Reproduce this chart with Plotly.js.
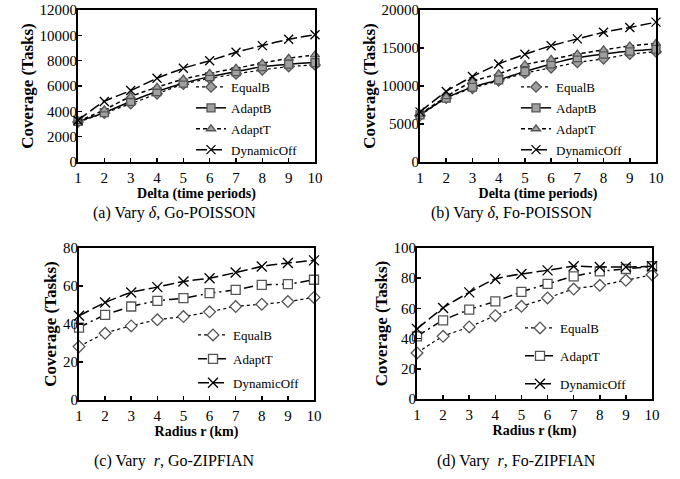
<!DOCTYPE html>
<html>
<head>
<meta charset="utf-8">
<script src="https://cdn.plot.ly/plotly-3.0.1.min.js"></script>
<style>html,body{margin:0;padding:0;background:#fff;}#chart{width:680px;height:479px;}</style>
</head>
<body>
<div id="chart"></div>
<script>
// ---- data ----
const xDelta = [1, 2, 3, 4, 5, 6, 7, 8, 9, 10];
const xRadius = [1, 2, 3, 4, 5, 6, 7, 8, 9, 10];

// (a) Go-POISSON, vary delta
const aEqualB     = [3150, 3860, 4600, 5380, 6140, 6600, 6950, 7270, 7530, 7660];
const aAdaptB     = [3200, 3900, 4780, 5560, 6220, 6740, 7140, 7530, 7720, 7850];
const aAdaptT     = [3200, 4120, 5170, 5900, 6540, 7000, 7400, 7800, 8190, 8450];
const aDynamicOff = [3300, 4780, 5640, 6610, 7400, 8000, 8660, 9190, 9690, 10050];

// (b) Fo-POISSON, vary delta
const bEqualB     = [6100, 8400, 9700, 10680, 11680, 12400, 13100, 13570, 14180, 14500];
const bAdaptB     = [6200, 8400, 9850, 10800, 11900, 12900, 13740, 14200, 14600, 14840];
const bAdaptT     = [6300, 8600, 10600, 11600, 12800, 13500, 14200, 14750, 15270, 15600];
const bDynamicOff = [6600, 9280, 11250, 12900, 14180, 15300, 16200, 17070, 17700, 18400];

// (c) Go-ZIPFIAN, vary radius
const cEqualB     = [28.1, 35.1, 39.0, 42.2, 43.9, 46.4, 49.2, 50.4, 51.8, 54.0];
const cAdaptT     = [38.1, 44.8, 49.2, 52.2, 53.6, 56.2, 58.0, 60.6, 61.0, 63.3];
const cDynamicOff = [44.3, 51.3, 56.6, 59.4, 62.4, 64.1, 67.1, 70.3, 72.1, 73.5];

// (d) Fo-ZIPFIAN, vary radius
const dEqualB     = [30.5, 41.5, 47.7, 55.2, 61.4, 66.9, 72.8, 75.3, 78.6, 82.3];
const dAdaptT     = [41.5, 52.1, 59.2, 64.7, 70.9, 76.2, 81.2, 84.5, 86.1, 87.9];
const dDynamicOff = [46.4, 60.3, 70.6, 79.5, 82.8, 85.2, 87.9, 87.4, 87.4, 87.9];

const yRangeA = [0, 12000], yTickA = 2000;
const yRangeB = [0, 20000], yTickB = 5000;
const yRangeC = [0, 80], yTickC = 20;
const yRangeD = [0, 100], yTickD = 20;

const captions = ['(a) Vary <i>δ</i>, Go-POISSON', '(b) Vary <i>δ</i>, Fo-POISSON',
                  '(c) Vary  <i>r</i>, Go-ZIPFIAN', '(d) Vary  <i>r</i>, Fo-ZIPFIAN'];

// ---- styles ----
const FONT = 'Liberation Serif, Times New Roman, serif';
const W = 680, H = 479;
function px(x) { return x / W; }
function py(y) { return 1 - y / H; }

const styleTop = {
  EqualB:     {dash: 'dot', width: 1.2, symbol: 'diamond', msize: 8},
  AdaptB:     {dash: 'solid', width: 1.5, symbol: 'square', msize: 8},
  AdaptT:     {dash: '4px,3px', width: 1.5, symbol: 'triangle-up', msize: 8},
  DynamicOff: {dash: '11px,4px', width: 1.5, symbol: 'x-thin-open', msize: 9}
};
const styleBot = {
  EqualB:     {dash: 'dot', width: 1.2, symbol: 'diamond', msize: 9},
  AdaptT:     {dash: '9px,4px,2px,4px', width: 1.5, symbol: 'square', msize: 9},
  DynamicOff: {dash: '11px,4px', width: 1.5, symbol: 'x-thin-open', msize: 10}
};

function mk(name, x, y, st, ax, leg, filled) {
  const isX = st.symbol.indexOf('x-thin') === 0;
  return {
    type: 'scatter', mode: 'lines+markers', name: name, x: x, y: y,
    xaxis: ax[0], yaxis: ax[1], legend: leg, legendgroup: leg + name,
    line: {color: '#000', width: st.width, dash: st.dash, shape: 'spline', smoothing: 0.6},
    marker: {symbol: st.symbol, size: st.msize,
             color: isX ? '#000' : (filled ? '#a0a0a0' : '#fff'),
             line: {color: isX ? '#222' : '#555', width: 1.3}},
    cliponaxis: false
  };
}

const data = [
  mk('EqualB', xDelta, aEqualB, styleTop.EqualB, ['x', 'y'], 'legend', true),
  mk('AdaptB', xDelta, aAdaptB, styleTop.AdaptB, ['x', 'y'], 'legend', true),
  mk('AdaptT', xDelta, aAdaptT, styleTop.AdaptT, ['x', 'y'], 'legend', true),
  mk('DynamicOff', xDelta, aDynamicOff, styleTop.DynamicOff, ['x', 'y'], 'legend', true),
  mk('EqualB', xDelta, bEqualB, styleTop.EqualB, ['x2', 'y2'], 'legend2', true),
  mk('AdaptB', xDelta, bAdaptB, styleTop.AdaptB, ['x2', 'y2'], 'legend2', true),
  mk('AdaptT', xDelta, bAdaptT, styleTop.AdaptT, ['x2', 'y2'], 'legend2', true),
  mk('DynamicOff', xDelta, bDynamicOff, styleTop.DynamicOff, ['x2', 'y2'], 'legend2', true),
  mk('EqualB', xRadius, cEqualB, styleBot.EqualB, ['x3', 'y3'], 'legend3', false),
  mk('AdaptT', xRadius, cAdaptT, styleBot.AdaptT, ['x3', 'y3'], 'legend3', false),
  mk('DynamicOff', xRadius, cDynamicOff, styleBot.DynamicOff, ['x3', 'y3'], 'legend3', false),
  mk('EqualB', xRadius, dEqualB, styleBot.EqualB, ['x4', 'y4'], 'legend4', false),
  mk('AdaptT', xRadius, dAdaptT, styleBot.AdaptT, ['x4', 'y4'], 'legend4', false),
  mk('DynamicOff', xRadius, dDynamicOff, styleBot.DynamicOff, ['x4', 'y4'], 'legend4', false)
];

function xax(dom, anchor, title) {
  return {domain: dom, anchor: anchor, range: [1, 10], dtick: 1, tick0: 1,
    ticks: 'inside', ticklen: 4, tickwidth: 1.5, tickcolor: '#000',
    showline: true, linecolor: '#000', linewidth: 2, mirror: true,
    showgrid: false, zeroline: false, fixedrange: true,
    tickfont: {family: FONT, size: 15, color: '#000'}, ticklabelstandoff: 1,
    title: {text: '<b>' + title + '</b>', font: {family: FONT, size: 14, color: '#000'}, standoff: 0}};
}
function yax(dom, anchor, range, dtick) {
  return {domain: dom, anchor: anchor, range: range, dtick: dtick, tick0: 0,
    ticks: 'inside', ticklen: 4, tickwidth: 1.5, tickcolor: '#000',
    showline: true, linecolor: '#000', linewidth: 2, mirror: true,
    showgrid: false, zeroline: false, fixedrange: true, tickformat: 'd',
    tickfont: {family: FONT, size: 15, color: '#000'}, ticklabelstandoff: -4,
    title: {text: '<b>Coverage (Tasks)</b>', font: {family: FONT, size: 17, color: '#000'}, standoff: 2}};
}
function leg(x, y, gap) {
  return {x: px(x), y: py(y), xanchor: 'left', yanchor: 'top', bgcolor: 'rgba(0,0,0,0)',
    borderwidth: 0, tracegroupgap: gap, itemwidth: 30,
    font: {family: FONT, size: 13, color: '#000'}};
}

const layout = {
  width: W, height: H, margin: {l: 0, r: 0, t: 0, b: 0},
  paper_bgcolor: '#fff', plot_bgcolor: '#fff', showlegend: true,
  xaxis:  xax([px(78), px(315)], 'y', 'Delta (time periods)'),
  yaxis:  yax([py(162), py(10)], 'x', yRangeA, yTickA),
  xaxis2: xax([px(420), px(656)], 'y2', 'Delta (time periods)'),
  yaxis2: yax([py(162), py(10)], 'x2', yRangeB, yTickB),
  xaxis3: xax([px(79), px(314)], 'y3', 'Radius r (km)'),
  yaxis3: yax([py(400), py(248)], 'x3', yRangeC, yTickC),
  xaxis4: xax([px(417), px(652)], 'y4', 'Radius r (km)'),
  yaxis4: yax([py(399), py(248)], 'x4', yRangeD, yTickD),
  legend:  leg(191, 72, 1),
  legend2: leg(516, 72, 1),
  legend3: leg(193, 320, 4),
  legend4: leg(520, 313, 8),
  annotations: [
    {text: captions[0], x: px(175), y: py(213)},
    {text: captions[1], x: px(511), y: py(213)},
    {text: captions[2], x: px(174), y: py(461)},
    {text: captions[3], x: px(516), y: py(461)}
  ].map(a => Object.assign(a, {xref: 'paper', yref: 'paper', xanchor: 'center', yanchor: 'middle',
    showarrow: false, font: {family: FONT, size: 16, color: '#000'}}))
};

Plotly.newPlot('chart', data, layout, {staticPlot: true, displayModeBar: false});
</script>
</body>
</html>
